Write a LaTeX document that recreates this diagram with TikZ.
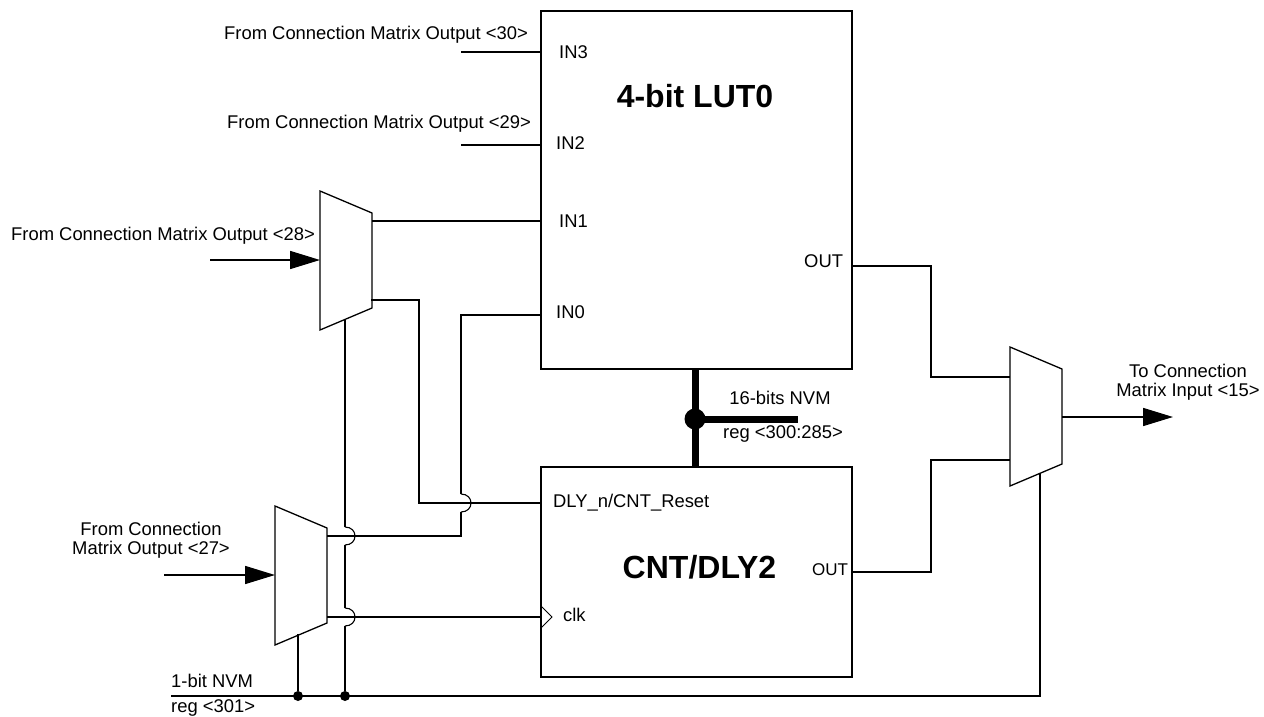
\documentclass[tikz,border=0pt]{standalone}
\usepackage{fontspec}
\setmainfont{Liberation Sans}
\usetikzlibrary{arrows.meta}
\tikzset{
wire/.style={draw=black,line width=1.6pt},
hop/.style={draw=black,line width=1.1pt,bend left=90,looseness=1.9},
bus/.style={draw=black,line width=7pt},
inarrow/.style={wire,-{Triangle[length=30pt,width=18pt]}},
blockbox/.style={shape=rectangle,draw=black,line width=1.6pt,inner sep=0pt,outer sep=0pt},
muxbody/.pic={\draw[draw=black,line width=1.3pt] (-26,-69.5) -- (26,-47.5) -- (26,47.5) -- (-26,69.5) -- cycle;},
junction/.style={shape=circle,fill=black,inner sep=0pt,minimum size=10pt},
lbl/.style={inner sep=0pt,font=\fontsize{18.4}{19}\selectfont},
lblw/.style={lbl,anchor=west},
title/.style={inner sep=0pt,font=\fontsize{32}{36}\selectfont\bfseries}
}
\begin{document}
\begin{tikzpicture}[x=1pt,y=-1pt]
\useasboundingbox (0,0) rectangle (1264,717);

\node[blockbox,minimum width=311pt,minimum height=358pt](lut) at (696.5,190) {};
\node[blockbox,minimum width=311pt,minimum height=210pt](cnt) at (696.5,572) {};
\pic(muxa) at (346,260.5) {muxbody};
\pic(muxb) at (301,575.5) {muxbody};
\pic(muxc) at (1036,416.5) {muxbody};

\node[title](luttitle) at (695,96) {4-bit LUT0};
\node[title](cnttitle) at (699.5,567) {CNT/DLY2};

\node[lblw](in3) at (559,52) {IN3};
\node[lblw](in2) at (556,143) {IN2};
\node[lblw](in1) at (559,221) {IN1};
\node[lblw](in0) at (556,312) {IN0};
\node[lblw](lutout) at (804,261) {OUT};
\node[lblw,font=\fontsize{17}{19}\selectfont](cntout) at (812,570) {OUT};
\node[lblw](dlyreset) at (553,503) {DLY\_n/CNT\_Reset};
\node[lblw](clklbl) at (563,615) {clk};

\node[lblw](from30) at (224,35) {From Connection Matrix Output <30>};
\node[lblw](from29) at (227,124) {From Connection Matrix Output <29>};
\node[lblw](from28) at (11,236) {From Connection Matrix Output <28>};
\node[lbl,align=center](from27) at (151,540.5) {From Connection\\Matrix Output <27>};
\node[lbl,align=center](toinput) at (1188,382.5) {To Connection\\Matrix Input <15>};
\node[lbl](nvma) at (780,398) {16-bits NVM};
\node[lbl](rega) at (783,434) {reg <300:285>};
\node[lblw](nvmb) at (171,681) {1-bit NVM};
\node[lblw](regb) at (171,708) {reg <301>};

%

\coordinate(lutina) at (461,52);
\coordinate(lutinb) at (461,145);
\path[-] (lutina) edge[wire] (lut.west|-lutina);
\path[-] (lutinb) edge[wire] (lut.west|-lutinb);

\coordinate(srca) at (210,260);
\coordinate(srcb) at (164,575);
\coordinate(dsta) at (320,260);
\coordinate(dstb) at (275,575);
\draw[inarrow] (srca) -- (dsta);
\draw[inarrow] (srcb) -- (dstb);

\coordinate(muxaup) at (372,221);
\coordinate(muxalow) at (371,300);
\coordinate(muxbup) at (327,536);
\coordinate(muxblow) at (327,617);
\path[-] (muxaup) edge[wire] (lut.west|-muxaup);

%

\coordinate(hopatop) at (461,494);
\coordinate(hopabot) at (461,512);
\coordinate(in0turn) at (461,315);
\coordinate(resetturn) at (419,503);
\draw[wire] (lut.west|-in0turn) -- (in0turn) -- (hopatop);
\draw[wire] (muxbup) -| (hopabot);
\draw[wire] (muxalow) -| (resetturn) -- (cnt.west|-resetturn);
\path[-] (hopatop) edge[hop] (hopabot);

%

\coordinate(railstart) at (171,696);
\coordinate(railend) at (1040,696);
\coordinate(muxcsel) at (1040,473);
\node[junction](dotb) at (298,696) {};
\node[junction](dota) at (345,696) {};
\draw[wire] (railstart) -- (railend) -- (muxcsel);

\coordinate(muxbsel) at (298,634);
\path[-] (muxbsel) edge[wire] (dotb);

\coordinate(muxasel) at (345,319);
\coordinate(hopbtop) at (345,527);
\coordinate(hopbbot) at (345,545);
\coordinate(hopctop) at (345,608);
\coordinate(hopcbot) at (345,626);
\path[-] (muxasel) edge[wire] (hopbtop);
\path[-] (hopbbot) edge[wire] (hopctop);
\path[-] (hopcbot) edge[wire] (dota);
\path[-] (hopbtop) edge[hop] (hopbbot);
\path[-] (hopctop) edge[hop] (hopcbot);

\coordinate(clka) at (541,606);
\coordinate(clkb) at (552,617);
\coordinate(clkc) at (541,628);
\draw[draw=black,line width=1pt] (clka) -- (clkb) -- (clkc);
\path[-] (muxblow) edge[wire] (cnt.west|-muxblow);

%

\coordinate(lutoutstart) at (852,266);
\coordinate(cntoutstart) at (852,572);
\coordinate(muxcupper) at (1010,377);
\coordinate(muxclower) at (1010,460);
\coordinate(lutoutturn) at (931,266);
\coordinate(cntoutturn) at (931,572);
\draw[wire] (lutoutstart) -- (lutoutturn) |- (muxcupper);
\draw[wire] (cntoutstart) -- (cntoutturn) |- (muxclower);

\coordinate(muxcout) at (1062,417);
\coordinate(sink) at (1173,417);
\draw[inarrow] (muxcout) -- (sink);

%

\coordinate(busend) at (798,419);
\node[junction,minimum size=21pt](busdot) at (695,419) {};
\path[-] (lut.south-|busdot) edge[bus] (cnt.north-|busdot);
\path[-] (busdot.center) edge[bus] (busend);
\end{tikzpicture}
\end{document}
